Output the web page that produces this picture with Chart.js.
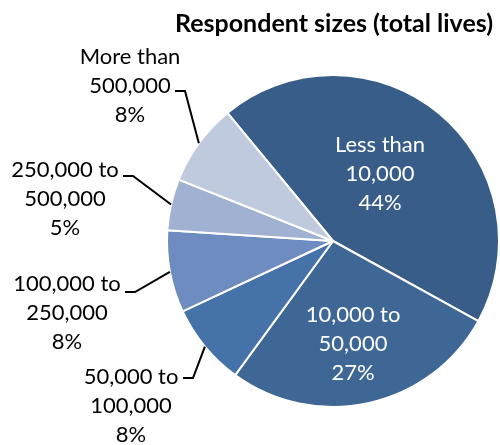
<!DOCTYPE html>
<html lang="en">
<head>
<meta charset="utf-8">
<title>Respondent sizes</title>
<script src="https://cdn.jsdelivr.net/npm/chart.js@4.4.1/dist/chart.umd.min.js"></script>
<style>
  html, body { margin: 0; padding: 0; background: #fff; }
</style>
</head>
<body>
<canvas id="pie" width="500" height="445"></canvas>
<script>
// respondents grouped by total lives covered
var sizeLabels = [
  ["Less than", "10,000"],
  ["10,000 to", "50,000"],
  ["50,000 to", "100,000"],
  ["100,000 to", "250,000"],
  ["250,000 to", "500,000"],
  ["More than", "500,000"]
];
var sharePct = [44, 27, 8, 8, 5, 8];
var sliceColors = ["#395d89", "#3f6796", "#4573a9", "#6e8cbf", "#a1b1d1", "#c0cadf"];

// label placement: centre of the middle text line, and where the leader starts
var labelSpots = [
  { x: 380, y: 174, inside: true },
  { x: 353, y: 344, inside: true },
  { x: 131, y: 406, lead: [183, 378] },
  { x: 67, y: 313, lead: [125, 292] },
  { x: 65, y: 199, lead: [123, 176] },
  { x: 130, y: 86, lead: [175, 91] }
];
var FONT = "Lato";
var LINE_H = 29;

var sliceLabels = {
  id: "sliceLabels",
  afterDatasetsDraw: function (chart) {
    var ctx = chart.ctx;
    var arcs = chart.getDatasetMeta(0).data;
    ctx.save();
    arcs.forEach(function (arc, i) {
      var spot = labelSpots[i];
      var p = arc.getProps(["x", "y", "startAngle", "endAngle", "outerRadius"], true);
      var mid = (p.startAngle + p.endAngle) / 2;
      if (!spot.inside) {
        // leader: short tick, then to the middle of the slice's rim
        ctx.strokeStyle = "#000";
        ctx.lineWidth = 2;
        ctx.beginPath();
        ctx.moveTo(spot.lead[0], spot.lead[1]);
        ctx.lineTo(spot.lead[0] + 10, spot.lead[1]);
        ctx.lineTo(p.x + p.outerRadius * Math.cos(mid), p.y + p.outerRadius * Math.sin(mid));
        ctx.stroke();
      }
      var lines = sizeLabels[i].concat([sharePct[i] + "%"]);
      ctx.fillStyle = spot.inside ? "#fff" : "#000";
      ctx.font = "22px " + FONT;
      ctx.textAlign = "center";
      ctx.textBaseline = "middle";
      lines.forEach(function (t, k) {
        ctx.fillText(t, spot.x, spot.y + (k - 1) * LINE_H);
      });
    });
    ctx.restore();
  }
};

new Chart(document.getElementById("pie"), {
  type: "pie",
  data: {
    labels: sizeLabels.map(function (l) { return l.join(" "); }),
    datasets: [{
      data: sharePct,
      backgroundColor: sliceColors,
      borderColor: "#fff",
      borderWidth: 2
    }]
  },
  options: {
    responsive: false,
    animation: false,
    rotation: -39.5,
    layout: { padding: { left: 166, right: -2, top: 0, bottom: 36 } },
    plugins: {
      legend: { display: false },
      tooltip: { enabled: false },
      title: {
        display: true,
        text: "Respondent sizes (total lives)",
        color: "#000",
        font: { family: FONT, size: 25, weight: "bold" },
        padding: { top: 9, bottom: 34 }
      }
    }
  },
  plugins: [sliceLabels]
});
</script>
</body>
</html>
